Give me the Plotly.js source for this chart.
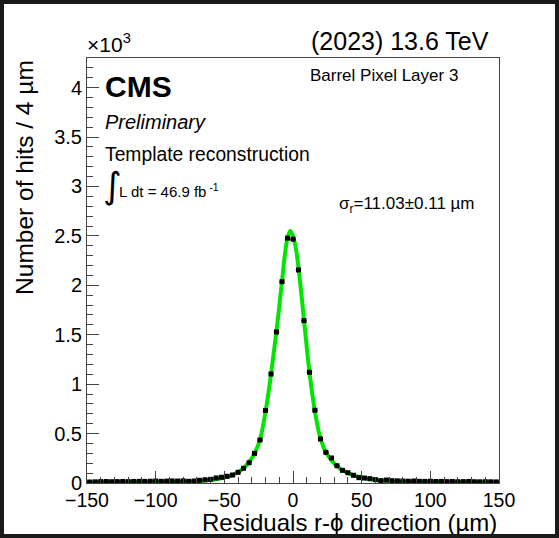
<!DOCTYPE html>
<html>
<head>
<meta charset="utf-8">
<script src="https://cdn.plot.ly/plotly-3.0.1.min.js"></script>
<style>
  html, body { margin: 0; padding: 0; background: #fff; }
  #wrap { position: relative; width: 559px; height: 538px; }
  #chart { position: absolute; left: 0; top: 0; width: 559px; height: 538px; }
  #frame { position: absolute; left: 0; top: 0; width: 559px; height: 538px;
           box-sizing: border-box; border: 4px solid #1a1a1a; pointer-events: none; }
</style>
</head>
<body>
<div id="wrap"><div id="chart"></div><div id="frame"></div></div>
<script>
// Bin centres of the residual histogram (µm), 4 µm bins
const binCenters = [
  -148,-144,-140,-136,-132,-128,-124,-120,-116,-112,-108,-104,-100,-96,-92,-88,-84,-80,
  -76,-72,-68,-64,-60,-56,-52,-48,-44,-40,-36,-32,-28,-24,-20,-16,-12,-8,-4,
  0,4,8,12,16,20,24,28,32,36,40,44,48,52,56,60,64,68,72,
  76,80,84,88,92,96,100,104,108,112,116,120,124,128,132,136,140,144,148
];
// Number of hits per bin (×10^3)
const hits = [
  0.010,0.012,0.014,0.015,0.013,0.014,0.015,0.014,0.016,0.017,0.016,0.018,0.020,0.017,0.019,0.021,0.020,0.022,
  0.017,0.020,0.027,0.033,0.037,0.051,0.058,0.068,0.081,0.108,0.149,0.205,0.300,0.435,0.734,1.103,1.528,2.037,2.477,
  2.467,2.156,1.643,1.120,0.736,0.446,0.310,0.253,0.175,0.128,0.104,0.078,0.054,0.050,0.044,0.034,0.024,0.030,0.024,
  0.022,0.020,0.018,0.020,0.017,0.016,0.018,0.015,0.016,0.014,0.015,0.013,0.014,0.015,0.013,0.012,0.013,0.012,0.011
];
// Fit curve
const fitX = [-150,-120,-100,-80,-70,-60,-50,-44,-40,-36,-32,-28,-24,-20,-16,-12,-8,-6,-4,-2,0,2,4,8,12,16,20,24,28,32,36,40,44,50,60,70,80,100,120,150];
const fitY = [0.008,0.010,0.012,0.015,0.020,0.030,0.055,0.080,0.110,0.150,0.210,0.300,0.440,0.720,1.100,1.540,2.040,2.300,2.480,2.550,2.500,2.380,2.180,1.650,1.120,0.720,0.450,0.310,0.230,0.170,0.130,0.100,0.080,0.055,0.030,0.020,0.015,0.012,0.010,0.008];

const xTitle = 'Residuals r-ϕ direction (µm)';
const yTitle = 'Number of hits / 4 µm';

const FONT = 'Liberation Sans, Arial, Helvetica, sans-serif';

const traces = [
  { x: fitX, y: fitY, type: 'scatter', mode: 'lines',
    line: { color: '#00e600', width: 4, shape: 'spline', smoothing: 1.0 },
    hoverinfo: 'skip', showlegend: false },
  { x: binCenters, y: hits, type: 'scatter', mode: 'markers',
    marker: { symbol: 'square', size: 5, color: '#000' },
    error_x: { type: 'constant', value: 2, thickness: 1, width: 0, color: '#000' },
    showlegend: false }
];

const layout = {
  width: 559, height: 538,
  margin: { l: 87, r: 60, t: 58, b: 55 },
  paper_bgcolor: '#fff', plot_bgcolor: '#fff',
  font: { family: FONT, color: '#000', size: 20 },
  xaxis: {
    range: [-150, 150], dtick: 50, tick0: 0,
    ticks: 'inside', ticklen: 12, tickcolor: '#444', tickwidth: 1,
    minor: { dtick: 10, ticks: 'inside', ticklen: 6, tickcolor: '#444' },
    showline: true, linecolor: '#444', linewidth: 1, mirror: true,
    showgrid: false, zeroline: false,
    tickfont: { size: 19.5, family: FONT, color: '#000' }
  },
  yaxis: {
    range: [0, 4.3], dtick: 0.5, tick0: 0,
    ticks: 'inside', ticklen: 12, tickcolor: '#444', tickwidth: 1,
    minor: { dtick: 0.1, ticks: 'inside', ticklen: 6, tickcolor: '#444' },
    showline: true, linecolor: '#444', linewidth: 1, mirror: true,
    showgrid: false, zeroline: false,
    tickfont: { size: 20, family: FONT, color: '#000' }
  },
  annotations: [
    { text: '×10<sup>3</sup>', xref: 'paper', yref: 'paper', x: -0.005, y: 1.0,
      xanchor: 'left', yanchor: 'bottom', showarrow: false, font: { size: 21 } },
    { text: '(2023) 13.6 TeV', xref: 'paper', yref: 'paper', x: 0.98, y: 1.04,
      xanchor: 'right', yanchor: 'middle', showarrow: false, font: { size: 25 } },
    { text: '<b>CMS</b>', xref: 'paper', yref: 'paper', x: 0.038, y: 0.934,
      xanchor: 'left', yanchor: 'middle', showarrow: false, font: { size: 30 } },
    { text: '<i>Preliminary</i>', xref: 'paper', yref: 'paper', x: 0.038, y: 0.849,
      xanchor: 'left', yanchor: 'middle', showarrow: false, font: { size: 20 } },
    { text: 'Template reconstruction', xref: 'paper', yref: 'paper', x: 0.038, y: 0.774,
      xanchor: 'left', yanchor: 'middle', showarrow: false, font: { size: 19.3 } },
    { text: '∫', xref: 'paper', yref: 'paper', x: 0.034, y: 0.700,
      xanchor: 'left', yanchor: 'middle', showarrow: false, font: { size: 36, family: 'DejaVu Sans' } },
    { text: 'L dt = 46.9 fb<sup> -1</sup>', xref: 'paper', yref: 'paper', x: 0.074, y: 0.688,
      xanchor: 'left', yanchor: 'middle', showarrow: false, font: { size: 15 } },
    { text: 'Barrel Pixel Layer 3', xref: 'paper', yref: 'paper', x: 0.536, y: 0.958,
      xanchor: 'left', yanchor: 'middle', showarrow: false, font: { size: 17 } },
    { text: 'σ<sub>r</sub>=11.03±0.11 µm', xref: 'paper', yref: 'paper', x: 0.607, y: 0.654,
      xanchor: 'left', yanchor: 'middle', showarrow: false, font: { size: 17 } },
    { text: xTitle, xref: 'paper', yref: 'paper', x: 1.0, y: -0.093,
      xanchor: 'right', yanchor: 'middle', showarrow: false, font: { size: 24 } },
    { text: yTitle, xref: 'paper', yref: 'paper', x: -0.152, y: 1.0, textangle: -90,
      xanchor: 'center', yanchor: 'top', showarrow: false, font: { size: 24.5 } }
  ]
};

Plotly.newPlot('chart', traces, layout, { displayModeBar: false, staticPlot: true });
</script>
</body>
</html>
